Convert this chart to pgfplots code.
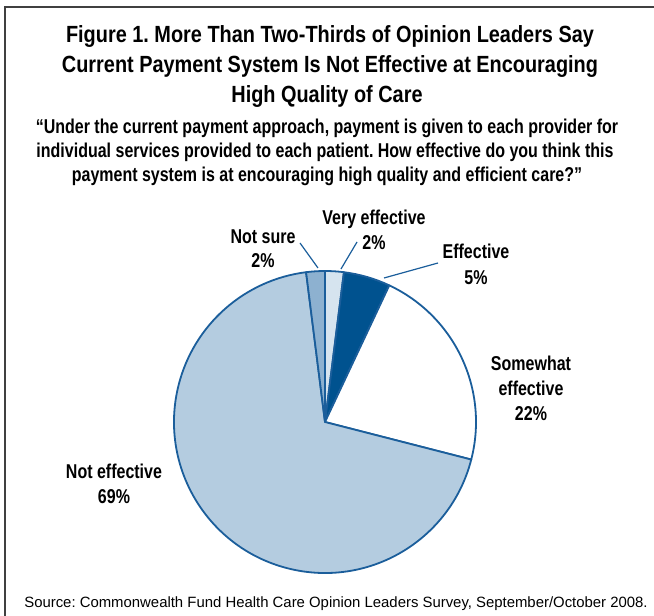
\documentclass[border=0pt]{standalone}
\usepackage{fontspec}
\usepackage{pgfplots}
\usepackage{pgfplotstable}
\pgfplotsset{compat=1.18}
\setmainfont{Liberation Sans}
\newfontfamily\condfont[FakeStretch=0.80]{Liberation Sans Bold}
\newfontfamily\titlefont[FakeStretch=0.85]{Liberation Sans Bold}
\frenchspacing

\definecolor{slice0}{HTML}{D6E4EF}
\definecolor{slice1}{HTML}{00528F}
\definecolor{slice2}{HTML}{FFFFFF}
\definecolor{slice3}{HTML}{B4CCE0}
\definecolor{slice4}{HTML}{8DB1D0}
\definecolor{edge}{HTML}{1B5E9B}
\definecolor{frame}{HTML}{404040}

% share of each answer, clockwise from the top
\pgfplotstableread{
label value
VeryEffective 2
Effective 5
SomewhatEffective 22
NotEffective 69
NotSure 2
}\piedata

\begin{document}
\begin{tikzpicture}[x=1pt,y=1pt]
\path[use as bounding box] (0,0) rectangle (654,616);
\draw[frame, line width=2pt] (5,0) -- (5,609) -- (654,609);

% title and question
\begin{scope}[every node/.style={anchor=base, inner sep=0pt}]
\node[font=\titlefont\fontsize{23.4}{30}\selectfont] at (330,616-43) {Figure 1. More Than Two-Thirds of Opinion Leaders Say};
\node[font=\titlefont\fontsize{23.4}{30}\selectfont] at (330,616-73) {Current Payment System Is Not Effective at Encouraging};
\node[font=\titlefont\fontsize{23.4}{30}\selectfont] at (327,616-103) {High Quality of Care};
\node[font=\condfont\fontsize{20}{24}\selectfont] at (327,616-134) {“Under the current payment approach, payment is given to each provider for};
\node[font=\condfont\fontsize{20}{24}\selectfont] at (325,616-158) {individual services provided to each patient. How effective do you think this};
\node[font=\condfont\fontsize{20}{24}\selectfont] at (327,616-182) {payment system is at encouraging high quality and efficient care?”};
\node[font=\fontsize{14.9}{18}\selectfont] at (336,616-608) {Source: Commonwealth Fund Health Care Opinion Leaders Survey, September/October 2008.};
\end{scope}

\coordinate (piecenter) at (325,616-422);
\begin{axis}[
    x=151pt, y=151pt,
    xmin=-1, xmax=1, ymin=-1, ymax=1,
    hide axis,
    anchor=center,
    at={(piecenter)},
    clip=false
]
    \xdef\cum{0}
    \pgfplotstableforeachcolumnelement{value}\of\piedata\as\v{%
        \pgfmathparse{90-3.6*\cum}\let\a\pgfmathresult
        \pgfmathparse{90-3.6*(\cum+\v)}\let\b\pgfmathresult
        \edef\temp{\noexpand\filldraw[fill=slice\pgfplotstablerow, draw=edge, line width=1.8pt, line join=round]
            (axis cs:0,0) -- (axis cs:{cos(\a)},{sin(\a)})
            arc[start angle=\a, end angle=\b, radius=151pt] -- cycle;}%
        \temp
        \pgfmathparse{\cum+\v}\xdef\cum{\pgfmathresult}%
    }
\end{axis}

% leader lines
\draw[edge, line width=1.2pt] (300,616-243) -- (318,616-268);
\draw[edge, line width=1.2pt] (357,616-242) -- (341,616-269);
\draw[edge, line width=1.2pt] (438,616-263) -- (384,616-278);

% slice labels
\begin{scope}[every node/.style={anchor=base, inner sep=0pt, font=\condfont\fontsize{20}{24}\selectfont}]
\node at (374,616-225) {Very effective};
\node at (374,616-250) {2\%};
\node at (263,616-244) {Not sure};
\node at (263,616-268) {2\%};
\node at (476,616-259) {Effective};
\node at (476,616-285) {5\%};
\node at (531,616-371) {Somewhat};
\node at (531,616-396) {effective};
\node at (531,616-421) {22\%};
\node at (114,616-479) {Not effective};
\node at (114,616-504) {69\%};
\end{scope}
\end{tikzpicture}
\end{document}
